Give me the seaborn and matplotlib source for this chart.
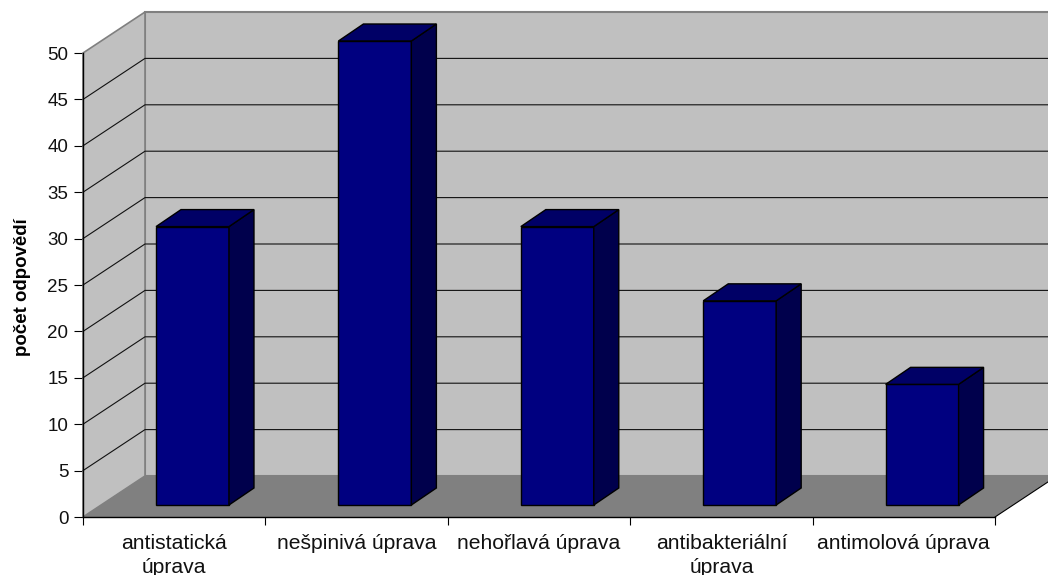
import matplotlib
matplotlib.use("Agg")
import matplotlib.pyplot as plt
import seaborn as sns
from matplotlib.patches import Polygon

categories = ["antistatická\núprava", "nešpinivá úprava", "nehořlavá úprava",
              "antibakteriální\núprava", "antimolová úprava"]
values = [30, 50, 30, 22, 13]
y_ticks = list(range(0, 55, 5))
y_label = "počet odpovědí"

W, H = 1048, 575
L, R, B, T = 83, 995, 517, 53
PX_X = (R - L) / 5
PX_Y = (B - T) / 50
DX, DY = 62 / PX_X, 41 / PX_Y          # wall depth in data units
BDX, BDY = 25 / PX_X, 17 / PX_Y        # bar depth in data units
SX, SY = 18.3 / PX_X, 12 / PX_Y        # bar offset from the front plane

sns.set_theme(style="white")
plt.rcParams["font.family"] = ["Liberation Sans", "DejaVu Sans"]
fig = plt.figure(figsize=(W / 100, H / 100), dpi=100, facecolor="white")
ax = fig.add_axes([L / W, 1 - B / H, (R - L) / W, (B - T) / H])

sns.barplot(x=list(range(5)), y=values, width=0.4, color="#000080", saturation=1,
            edgecolor="black", linewidth=1, ax=ax, zorder=3)
ax.set_xlim(-0.5, 4.5)
ax.set_ylim(0, 50)

x0, x1, top = -0.5, 4.5, 50
wall, floor, edge = "#C0C0C0", "#808080", "#808080"
ax.add_patch(Polygon([(x0 + DX, DY), (x1 + DX, DY), (x1 + DX, top + DY), (x0 + DX, top + DY)],
                     closed=True, fc=wall, ec=edge, lw=1.5, clip_on=False, zorder=0.5))
ax.add_patch(Polygon([(x0, 0), (x0 + DX, DY), (x0 + DX, top + DY), (x0, top)],
                     closed=True, fc=wall, ec=edge, lw=1.2, clip_on=False, zorder=0.6))
ax.add_patch(Polygon([(x0, 0), (x1, 0), (x1 + DX, DY), (x0 + DX, DY)],
                     closed=True, fc=floor, ec="none", clip_on=False, zorder=0.7))
ax.plot([x1, x1 + DX], [0, DY], color="black", lw=0.8, clip_on=False, zorder=1)

for v in y_ticks[1:-1]:
    ax.plot([x0, x0 + DX, x1 + DX], [v, v + DY, v + DY], color="#111111", lw=0.8,
            clip_on=False, zorder=1)

for bar in list(ax.patches):
    if not isinstance(bar, matplotlib.patches.Rectangle):
        continue
    bar.set_x(bar.get_x() + SX)
    bar.set_y(bar.get_y() + SY)
    bar.set_clip_on(False)
    a, b = bar.get_x(), bar.get_x() + bar.get_width()
    y0, y1 = bar.get_y(), bar.get_y() + bar.get_height()
    ax.add_patch(Polygon([(b, y0), (b + BDX, y0 + BDY), (b + BDX, y1 + BDY), (b, y1)],
                         closed=True, fc="#00004C", ec="black", lw=1, clip_on=False, zorder=3))
    ax.add_patch(Polygon([(a, y1), (b, y1), (b + BDX, y1 + BDY), (a + BDX, y1 + BDY)],
                         closed=True, fc="#000066", ec="black", lw=1, clip_on=False, zorder=3))

sns.despine(ax=ax, top=True, right=True)
for s in ("left", "bottom"):
    ax.spines[s].set_color("black")
    ax.spines[s].set_linewidth(1)
    ax.spines[s].set_zorder(2)

ax.set_yticks(y_ticks)
ax.tick_params(axis="y", which="major", length=6.5, width=0.8, color="black", left=True,
               labelsize=13.5, pad=4, labelcolor="#111111")
ax.set_xticks([x0 + i for i in range(6)])
ax.set_xticklabels([""] * 6)
ax.tick_params(axis="x", which="major", length=6, width=0.8, color="black", bottom=True)
ax.set_xticks(list(range(5)), minor=True)
ax.set_xticklabels(categories, minor=True, fontsize=15.2, color="#111111", linespacing=1.3)
ax.tick_params(axis="x", which="minor", length=0, pad=12.5)
ax.set_xlabel("")
ax.set_ylabel(y_label, fontsize=13.4, fontweight="bold", color="black", labelpad=0)
ax.yaxis.set_label_coords(-0.0575, 0.495)

fig.savefig("out.png", dpi=100, facecolor="white")
